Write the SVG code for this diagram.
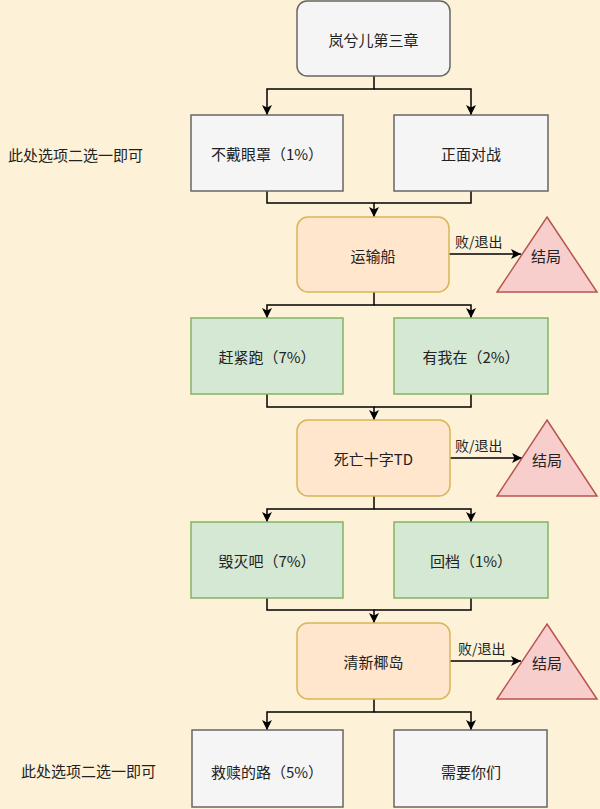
<svg xmlns="http://www.w3.org/2000/svg" width="600" height="809" viewBox="0 0 600 809">
<defs>
<marker id="arr" markerUnits="userSpaceOnUse" markerWidth="10" markerHeight="10" refX="10" refY="5" orient="auto">
<path d="M0,0 L10,5 L0,10 L2.5,5 z" fill="#000"/>
</marker>
<style>
text{font-family:"Noto Sans CJK SC","Liberation Sans",sans-serif;font-size:15px;fill:#222;text-anchor:middle;dominant-baseline:central}
.grey{fill:#f5f5f5;stroke:#666;stroke-width:1.5}
.green{fill:#d5e8d4;stroke:#82b366;stroke-width:1.5}
.orange{fill:#ffe6cc;stroke:#d6b656;stroke-width:1.5}
.tri{fill:#f8cecc;stroke:#b85450;stroke-width:1.5}
.c{fill:none;stroke:#000;stroke-width:1.5}
.lbl{font-size:14px;text-anchor:start}
.note{text-anchor:start}
</style>
</defs>
<rect width="600" height="809" fill="#fdf2d8"/>
<g id="connectors">
<path class="c" d="M374,76 V89 H267 V115" marker-end="url(#arr)"/>
<path class="c" d="M374,89 H471 V115" marker-end="url(#arr)"/>
<path class="c" d="M267,191 V203 H374 V217" marker-end="url(#arr)"/>
<path class="c" d="M471,191 V203 H374"/>
<path class="c" d="M449,254 H521" marker-end="url(#arr)"/>
<path class="c" d="M374,292 V305 H267 V318" marker-end="url(#arr)"/>
<path class="c" d="M374,305 H471 V318" marker-end="url(#arr)"/>
<path class="c" d="M267,394 V407 H374 V420" marker-end="url(#arr)"/>
<path class="c" d="M471,394 V407 H374"/>
<path class="c" d="M450,458 H522" marker-end="url(#arr)"/>
<path class="c" d="M374,496 V509 H267 V522" marker-end="url(#arr)"/>
<path class="c" d="M374,509 H471 V522" marker-end="url(#arr)"/>
<path class="c" d="M267,598 V610 H374 V623" marker-end="url(#arr)"/>
<path class="c" d="M471,598 V610 H374"/>
<path class="c" d="M450,661 H521" marker-end="url(#arr)"/>
<path class="c" d="M374,699 V712 H267 V730" marker-end="url(#arr)"/>
<path class="c" d="M374,712 H471 V730" marker-end="url(#arr)"/>
<text class="lbl" x="455" y="241">败/退出</text>
<text class="lbl" x="455" y="445">败/退出</text>
<text class="lbl" x="458" y="648">败/退出</text>
</g>
<g id="note-top"><text class="note" x="8" y="154">此处选项二选一即可</text></g>
<g id="note-bottom"><text class="note" x="21" y="770">此处选项二选一即可</text></g>
<g id="start"><rect class="grey" x="297" y="1" width="153" height="75" rx="10"/><text x="373.5" y="39">岚兮儿第三章</text></g>
<g id="opt-1a"><rect class="grey" x="191" y="115" width="152" height="76"/><text x="267" y="153">不戴眼罩（1%）</text></g>
<g id="opt-1b"><rect class="grey" x="394" y="115" width="154" height="76"/><text x="471" y="153">正面对战</text></g>
<g id="stage-1"><rect class="orange" x="297" y="217" width="152" height="75" rx="11"/><text x="373" y="255">运输船</text></g>
<g id="end-1"><polygon class="tri" points="547,217 597,292 497,292"/><text x="546" y="255">结局</text></g>
<g id="opt-2a"><rect class="green" x="191" y="318" width="152" height="76"/><text x="267" y="356">赶紧跑（7%）</text></g>
<g id="opt-2b"><rect class="green" x="394" y="318" width="154" height="76"/><text x="471" y="356">有我在（2%）</text></g>
<g id="stage-2"><rect class="orange" x="297" y="420" width="153" height="76" rx="11"/><text x="373.5" y="458">死亡十字TD</text></g>
<g id="end-2"><polygon class="tri" points="547,420 597,496 497,496"/><text x="547" y="459">结局</text></g>
<g id="opt-3a"><rect class="green" x="191" y="522" width="152" height="76"/><text x="267" y="560">毁灭吧（7%）</text></g>
<g id="opt-3b"><rect class="green" x="394" y="522" width="154" height="76"/><text x="471" y="560">回档（1%）</text></g>
<g id="stage-3"><rect class="orange" x="297" y="623" width="153" height="76" rx="11"/><text x="373.5" y="661">清新椰岛</text></g>
<g id="end-3"><polygon class="tri" points="547,624 597,699 497,699"/><text x="547" y="662">结局</text></g>
<g id="opt-4a"><rect class="grey" x="192" y="730" width="151" height="77"/><text x="267" y="771">救赎的路（5%）</text></g>
<g id="opt-4b"><rect class="grey" x="394" y="730" width="153" height="77"/><text x="471" y="771">需要你们</text></g>
</svg>
